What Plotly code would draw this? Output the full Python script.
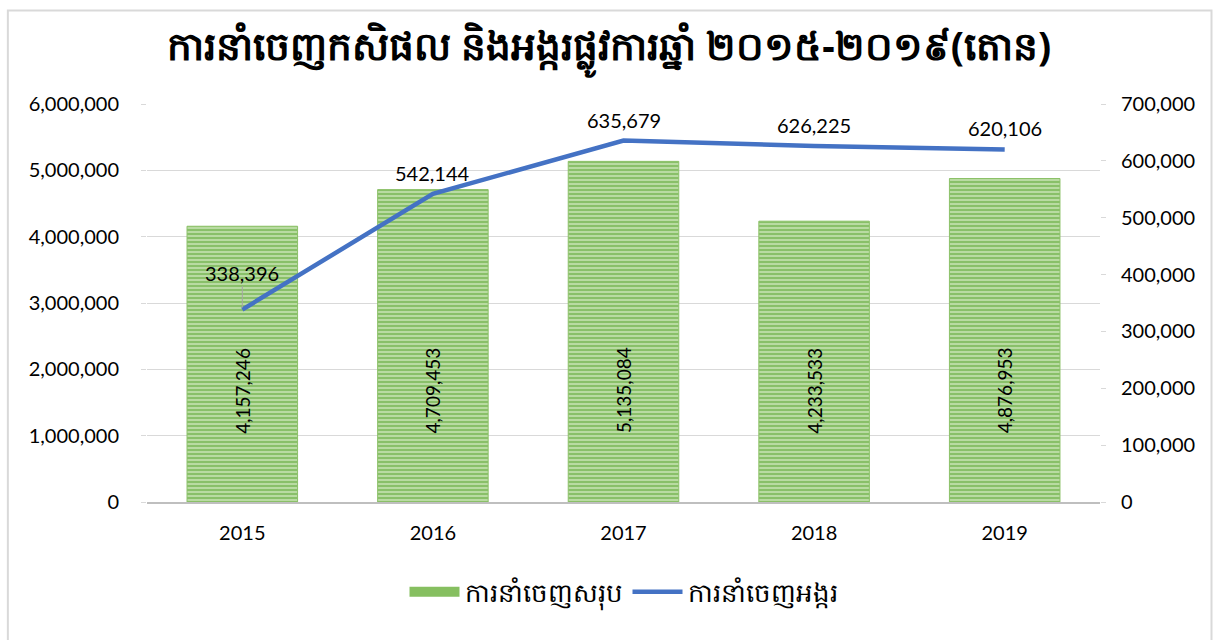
import plotly.graph_objects as go

years = ["2015", "2016", "2017", "2018", "2019"]
total_exports = [4157246, 4709453, 5135084, 4233533, 4876953]
rice_exports = [338396, 542144, 635679, 626225, 620106]
total_name = "ការនាំចេញសរុប"
rice_name = "ការនាំចេញអង្ករ"
title_text = "ការនាំចេញកសិផល និងអង្ករផ្លូវការឆ្នាំ ២០១៥-២០១៩(តោន)"

FONT = "Lato, 'Open Sans', 'Noto Sans', sans-serif"
GRID = "#d9d9d9"
BAR_LABEL_LEVEL = 1.68e6  # vertical level of rotated bar labels

fig = go.Figure()
fig.add_trace(go.Bar(
    x=years, y=total_exports, name=total_name, showlegend=False,
    marker=dict(
        color="#a9d18e",
        line=dict(color="#8cc168", width=1),
        pattern=dict(shape="-", fgcolor="#5aa52f", bgcolor="#b9dba2", size=4, solidity=0.5),
    ),
    yaxis="y",
))
# legend swatch for the bars (wide green block like the reference)
fig.add_trace(go.Scatter(
    x=[None], y=[None], name=total_name, mode="lines",
    line=dict(color="#86bf60", width=20), legendrank=1, yaxis="y",
))
fig.add_trace(go.Scatter(
    x=years, y=rice_exports, name=rice_name, mode="lines",
    line=dict(color="#4472c4", width=4.5), legendrank=2,
    yaxis="y2",
))

annotations = []
for i, v in enumerate(total_exports):
    annotations.append(dict(
        x=i, y=BAR_LABEL_LEVEL, xref="x", yref="y", text=f"{v:,}",
        showarrow=False, textangle=-90, font=dict(family=FONT, size=19, color="#000000"),
    ))
for i, v in enumerate(rice_exports):
    if i == 0:
        annotations.append(dict(
            x=i, y=v, xref="x", yref="y2", text=f"{v:,}",
            showarrow=True, arrowhead=0, arrowwidth=1, arrowcolor="#a6a6a6",
            ax=0, ay=-37, standoff=2, font=dict(family=FONT, size=20, color="#000000"),
        ))
    else:
        annotations.append(dict(
            x=i, y=v, xref="x", yref="y2", text=f"{v:,}",
            showarrow=False, yshift=21, font=dict(family=FONT, size=20, color="#000000"),
        ))

annotations.append(dict(
    x=0.485, y=1.14, xref="paper", yref="paper", xanchor="center", yanchor="middle",
    text=f"<b>{title_text}</b>", showarrow=False,
    font=dict(family="'Noto Sans', 'DejaVu Sans', sans-serif", size=39, color="#000000"),
))

fig.update_layout(
    width=1216, height=640,
    margin=dict(l=147, r=116, t=104, b=138),
    paper_bgcolor="white", plot_bgcolor="white",
    font=dict(family=FONT, size=20, color="#000000"),
    bargap=0.42,
    showlegend=True,
    legend=dict(
        orientation="h", x=0.5, xanchor="center", y=-0.226, yanchor="middle",
        font=dict(family=FONT, size=26, color="#000000"),
        itemwidth=50, tracegroupgap=0,
    ),
    xaxis=dict(
        type="category", range=[-0.5, len(years) - 0.5],
        showline=True, linecolor="#bfbfbf", linewidth=2,
        ticks="", ticklabelstandoff=12, tickfont=dict(family=FONT, size=20),
        showgrid=False,
    ),
    yaxis=dict(
        range=[0, 6000000], dtick=1000000, tickformat=",d",
        showgrid=True, gridcolor=GRID, gridwidth=1,
        ticks="outside", ticklen=5, tickcolor=GRID,
        ticklabelstandoff=18, zeroline=False, showline=False,
        tickfont=dict(family=FONT, size=20),
    ),
    yaxis2=dict(
        range=[0, 700000], dtick=100000, tickformat=",d",
        overlaying="y", side="right", showgrid=False,
        ticks="outside", ticklen=5, tickcolor=GRID,
        ticklabelstandoff=11, zeroline=False, showline=False,
        tickfont=dict(family=FONT, size=20),
    ),
    annotations=annotations,
    shapes=[dict(
        type="rect", xref="paper", yref="paper",
        x0=-0.146, x1=1.117, y0=-0.36, y1=1.235,
        line=dict(color="#d9d9d9", width=2), fillcolor="rgba(0,0,0,0)", layer="below",
    )],
)

fig.write_html(
    "out.html",
    config={"displayModeBar": False},
    post_script="document.body.style.margin='0';",
)
